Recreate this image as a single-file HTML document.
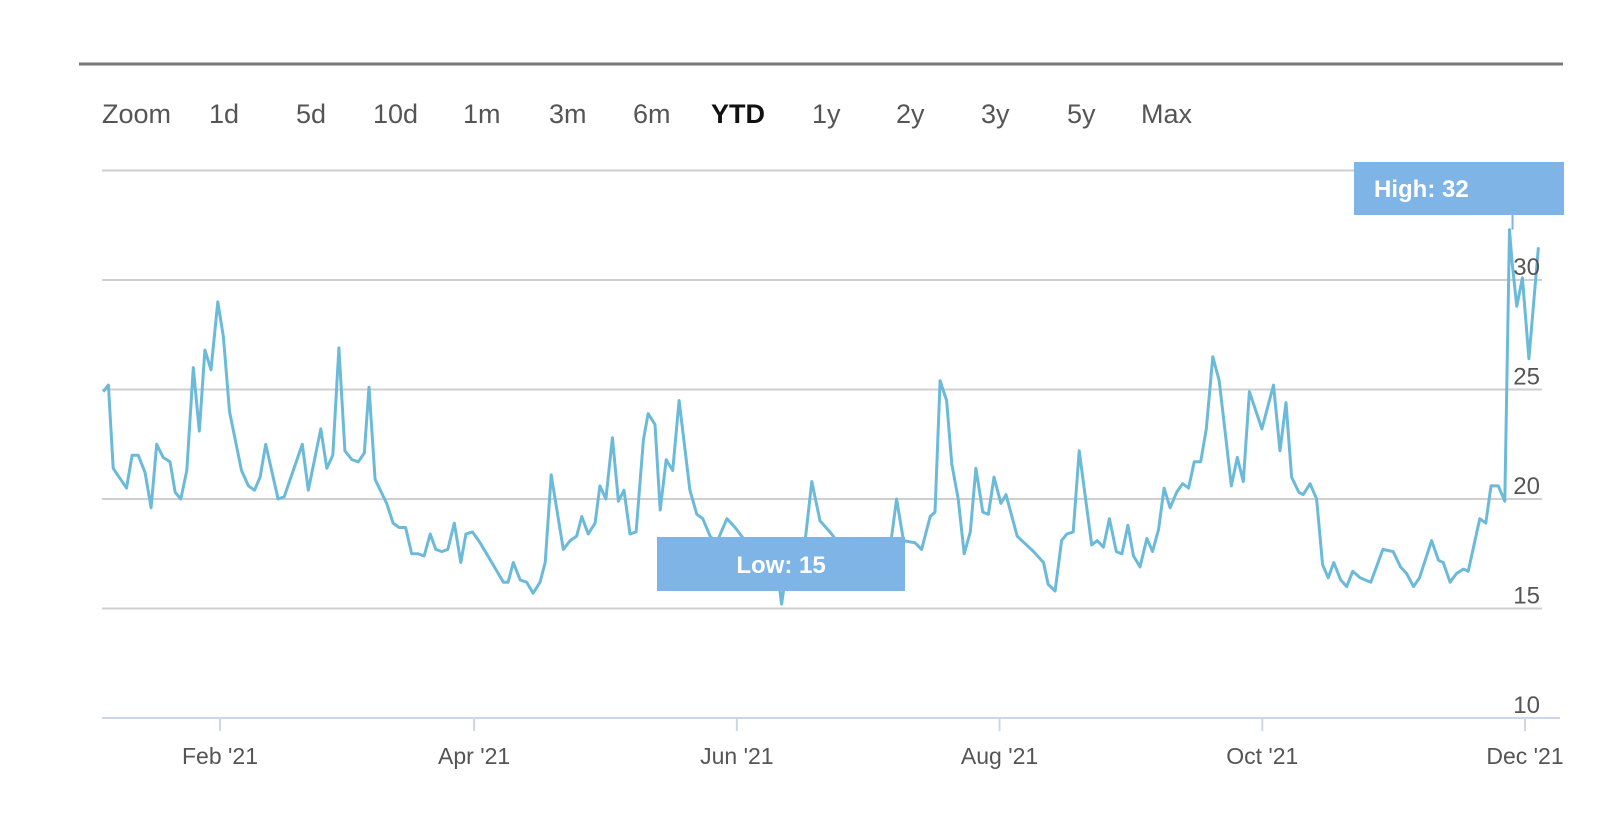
<!DOCTYPE html>
<html><head><meta charset="utf-8"><style>
html,body{margin:0;padding:0;background:#fff;}
svg{display:block;font-family:"Liberation Sans",sans-serif;}
</style></head><body>
<svg id="chart" width="1600" height="823" viewBox="0 0 1600 823">
<line x1="79" y1="64" x2="1563" y2="64" stroke="#777" stroke-width="3"/>
<g font-size="27" fill="#555">
<text x="102" y="123">Zoom</text>
<text x="209" y="123">1d</text>
<text x="296" y="123">5d</text>
<text x="373" y="123">10d</text>
<text x="463" y="123">1m</text>
<text x="549" y="123">3m</text>
<text x="633" y="123">6m</text>
<text x="711" y="123" font-weight="bold" fill="#111">YTD</text>
<text x="812" y="123">1y</text>
<text x="896" y="123">2y</text>
<text x="981" y="123">3y</text>
<text x="1067" y="123">5y</text>
<text x="1141" y="123">Max</text>
</g>
<g id="grid"></g>
<g id="xaxis"></g>
<g id="series"></g>
<g id="labels"></g>
</svg>
<script>
const days = [3.9,5.1,6.2,9.3,10.6,12.0,13.6,15.0,16.3,17.8,19.4,20.6,21.9,23.3,24.8,26.2,27.5,28.9,30.5,31.8,33.2,36.0,37.6,39.0,40.3,41.6,44.5,45.9,50.1,51.5,54.4,55.8,57.2,58.6,60.0,61.6,63.1,64.5,65.6,67.0,69.7,71.2,72.6,74.1,75.5,77.0,78.4,79.8,81.1,82.5,83.9,85.4,86.9,88.1,89.6,91.4,
94.1,96.8,97.9,99.1,100.7,102.2,103.7,105.3,106.5,107.9,110.7,112.3,113.8,115.0,116.5,118.1,119.2,120.6,122.1,123.5,124.8,126.2,127.6,129.3,130.4,132.0,133.2,134.6,136.1,137.6,140.1,141.7,143.1,144.8,146.3,148.7,150.6,152.5,154.8,157.1,160.3,161.4,162.6,164.9,166.8,168.4,170.3,172.6,175.0,177.3,179.6,181.9,184.3,186.6,188.1,189.7,192.4,193.9,195.9,
197.0,198.2,199.7,200.9,202.4,203.8,205.2,206.5,208.1,209.4,210.7,212.3,213.5,216.1,219.9,222.2,223.3,224.9,226.4,227.6,229.1,230.5,233.4,234.7,236.1,237.5,239.1,240.4,241.8,243.1,244.6,246.2,247.5,248.9,250.2,251.6,253.1,254.5,255.9,257.2,258.7,260.0,261.5,263.0,264.4,265.8,267.2,268.6,270.0,272.9,275.6,277.1,278.5,279.8,281.5,
282.5,284.1,285.6,287.0,288.3,289.6,291.2,292.6,294.0,295.7,298.2,301.0,303.4,305.1,306.5,308.1,309.5,312.3,313.9,315.0,316.6,318.1,319.7,320.8,323.5,324.9,326.1,327.8,329.3,330.4,331.0,332.1,333.4,334.9,337.1];
const values = [24.9,25.2,21.4,20.5,22.0,22.0,21.2,19.6,22.5,21.9,21.7,20.3,20.0,21.3,26.0,23.1,26.8,25.9,29.0,27.4,24.0,21.3,20.6,20.4,21.0,22.5,20.0,20.1,22.5,20.4,23.2,21.4,22.0,26.9,22.2,21.8,21.7,22.1,25.1,20.9,19.8,18.9,18.7,18.7,17.5,17.5,17.4,18.4,17.7,17.6,17.7,18.9,17.1,18.4,18.5,18.0,
17.1,16.2,16.2,17.1,16.3,16.2,15.7,16.2,17.1,21.1,17.7,18.1,18.3,19.2,18.4,18.9,20.6,20.0,22.8,19.9,20.4,18.4,18.5,22.7,23.9,23.4,19.5,21.8,21.3,24.5,20.4,19.3,19.1,18.3,18.0,19.1,18.7,18.2,17.6,17.3,16.9,15.2,16.9,17.5,18.0,20.8,19.0,18.5,17.9,18.2,18.1,17.7,18.0,17.8,20.0,18.1,18.0,17.7,19.2,
19.4,25.4,24.5,21.6,20.0,17.5,18.5,21.4,19.4,19.3,21.0,19.8,20.2,18.3,17.6,17.1,16.1,15.8,18.1,18.4,18.5,22.2,17.9,18.1,17.8,19.1,17.6,17.5,18.8,17.4,16.9,18.2,17.6,18.6,20.5,19.6,20.3,20.7,20.5,21.7,21.7,23.2,26.5,25.4,23.0,20.6,21.9,20.8,24.9,23.2,25.2,22.2,24.4,21.0,20.3,
20.2,20.7,20.0,17.0,16.4,17.1,16.3,16.0,16.7,16.4,16.2,17.7,17.6,16.9,16.6,16.0,16.4,18.1,17.2,17.1,16.2,16.6,16.8,16.7,19.1,18.9,20.6,20.6,19.9,32.3,30.8,28.8,30.1,26.4,31.5];
const yTicks = [10,15,20,25,30,35];
const yTickLabels = ['10','15','20','25','30',''];
const xTickDays = [31,90,151,212,273,334];
const xTickLabels = ["Feb '21","Apr '21","Jun '21","Aug '21","Oct '21","Dec '21"];

const NS='http://www.w3.org/2000/svg';
function xScale(d){return 220+(d-31)*4.307;}
function yScale(v){return 718-(v-10)*21.9;}
function mk(tag,attrs,parent){const e=document.createElementNS(NS,tag);for(const k in attrs)e.setAttribute(k,attrs[k]);parent.appendChild(e);return e;}

const grid=document.getElementById('grid');
yTicks.forEach((t,i)=>{
  if(t===10)return;
  const ln=mk('line',{x1:102,x2:1542,y1:yScale(t),y2:yScale(t),stroke:'#cfcfcf','stroke-width':2},grid);
  
  
});
const xa=document.getElementById('xaxis');
const axl=mk('line',{x1:102,x2:1560,y1:718,y2:718,stroke:'#ccd6eb','stroke-width':2},xa);


xTickDays.forEach((d,i)=>{
  const x=xScale(d);
  const tk=mk('line',{x1:x,x2:x,y1:718,y2:731,stroke:'#ccd6eb','stroke-width':2},xa);
  
  
  const tx=mk('text',{x:x,y:764,'text-anchor':'middle','font-size':23,fill:'#555'},xa);
  tx.textContent=xTickLabels[i];
  
  
});

const ser=document.getElementById('series');
let dstr='';
days.forEach((d,i)=>{dstr+=(i?'L':'M')+xScale(d).toFixed(1)+' '+yScale(values[i]).toFixed(1);});
const path=mk('path',{d:dstr,fill:'none',stroke:'#6bbad9','stroke-width':3,'stroke-linejoin':'round'},ser);



const lab=document.getElementById('labels');
yTicks.forEach((t,i)=>{
  if(!yTickLabels[i])return;
  const tx=mk('text',{x:1540,y:yScale(t)-5,'text-anchor':'end','font-size':24,fill:'#555'},lab);
  tx.textContent=yTickLabels[i];
  
  
});

// high / low annotations
let hi=0,lo=0;
values.forEach((v,i)=>{if(v>values[hi])hi=i;if(v<values[lo])lo=i;});
const hx=xScale(days[hi]);
const hc=mk('line',{x1:hx+3,x2:hx+3,y1:215,y2:yScale(values[hi]),stroke:'#7fb5e6','stroke-width':2},lab);


const hb=mk('rect',{x:1354,y:162,width:210,height:53,fill:'#7fb5e6'},lab);


const ht=mk('text',{x:1374,y:197,'font-size':24,'font-weight':'bold',fill:'#fff'},lab);
ht.textContent='High: '+Math.round(values[hi]);


const lb=mk('rect',{x:657,y:537,width:248,height:54,fill:'#7fb5e6'},lab);


const lt=mk('text',{x:781,y:573,'text-anchor':'middle','font-size':24,'font-weight':'bold',fill:'#fff'},lab);
lt.textContent='Low: '+Math.round(values[lo]);


</script>
</body></html>
